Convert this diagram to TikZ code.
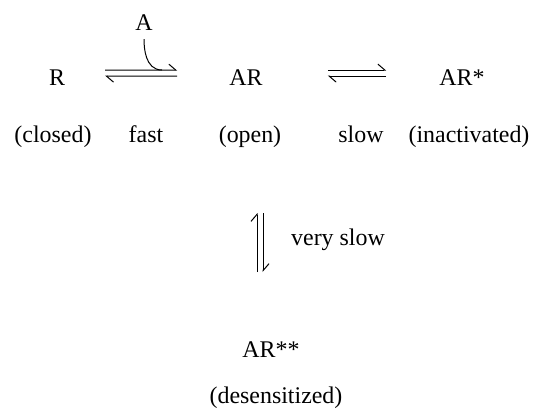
\documentclass[tikz,border=0pt]{standalone}
\usepackage{fontspec}
\setmainfont{Liberation Serif}
\usetikzlibrary{arrows.meta}
\tikzset{sp/.style={anchor=base,inner sep=0pt},hr/.style={line width=1bp,-{Straight Barb[left,length=7bp,width=12bp]}}}
\begin{document}
\begin{tikzpicture}[x=1bp,y=-1bp,font=\fontsize{24}{28}\selectfont]
\useasboundingbox (0,0) rectangle (533,415);
\node[sp] (A) at (144,30) {A};
\node[sp] (R) at (57,85) {R};
\node[sp] (AR) at (246,85) {AR};
\node[sp] (ARs) at (462,85) {AR*};
\node[sp] (closed) at (53,142) {(closed)};
\node[sp] (fast) at (146,142) {fast};
\node[sp] (open) at (250,142) {(open)};
\node[sp] (slow) at (361,142) {slow};
\node[sp] (inact) at (469,142) {(inactivated)};
\node[sp] (vslow) at (338,245) {very slow};
\node[sp] (ARss) at (271,357) {AR**};
\node[sp] (desens) at (276,403) {(desensitized)};
% fast step, A binds
\draw[hr,shorten <=40bp,shorten >=52bp] ([yshift=7bp]R.east)--([yshift=7bp]AR.west);
\draw[hr,shorten <=52bp,shorten >=40bp] ([yshift=1bp]AR.west)--([yshift=1bp]R.east);
\coordinate (j) at (162,70);
\draw[line width=1bp,shorten <=9bp] (A.south) to[out=-90,in=180] (j);
% slow step
\draw[hr,shorten <=65bp,shorten >=53bp] ([yshift=7bp]AR.east)--([yshift=7bp]ARs.west);
\draw[hr,shorten <=53bp,shorten >=65bp] ([yshift=1bp]ARs.west)--([yshift=1bp]AR.east);
% very slow step
\coordinate (v1) at (260,213);\coordinate (v2) at (260,272);
\draw[hr] ([xshift=-3bp]v2)--([xshift=-3bp]v1);
\draw[hr] ([xshift=3bp]v1)--([xshift=3bp]v2);
\end{tikzpicture}
\end{document}
